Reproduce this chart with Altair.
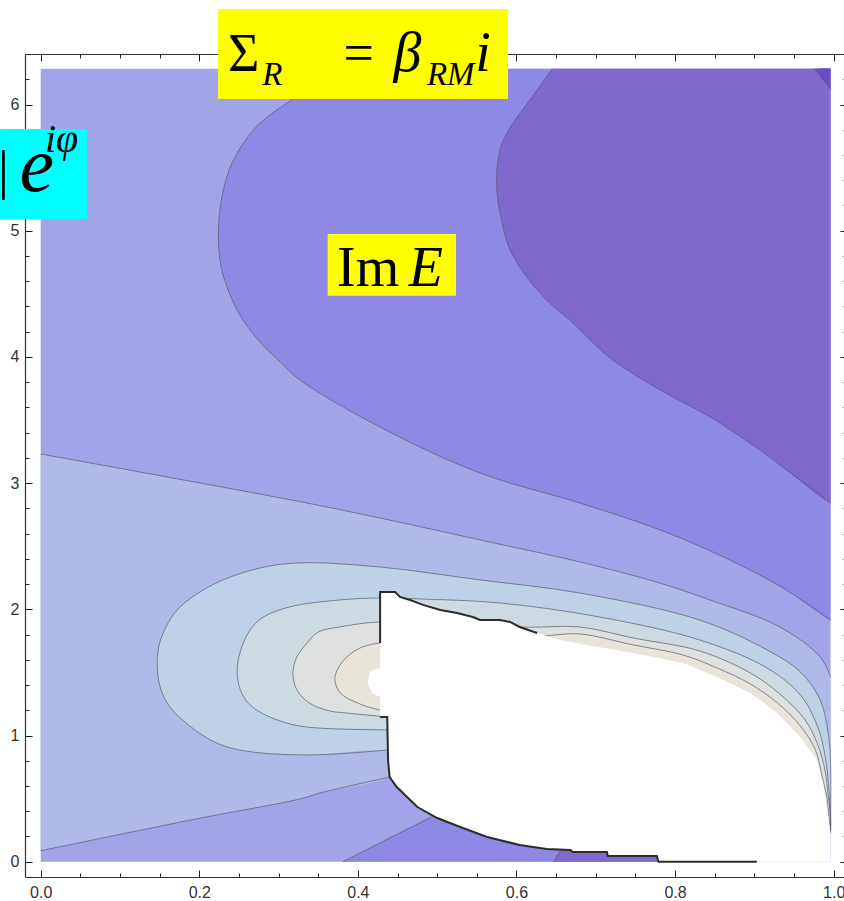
import altair as alt
import pandas as pd

# ---------------- axes ----------------
X_MAJOR = [0.0, 0.2, 0.4, 0.6, 0.8, 1.0]
X_MINOR = [0.05, 0.10, 0.15, 0.25, 0.30, 0.35, 0.45, 0.50, 0.55, 0.65,
           0.70, 0.75, 0.85, 0.90, 0.95]
Y_MAJOR = [0, 1, 2, 3, 4, 5, 6]
Y_MINOR = [0.2, 0.4, 0.6, 0.8, 1.2, 1.4, 1.6, 1.8, 2.2, 2.4, 2.6, 2.8,
           3.2, 3.4, 3.6, 3.8, 4.2, 4.4, 4.6, 4.8, 5.2, 5.4, 5.6, 5.8, 6.2]

PHI_MAX = 6.283185   # 2*pi
X_MAX = 0.996        # last sampled value of |e|

# ---------------- contour curves (x, phi) ----------------
C0 = [(0.976, 6.283), (0.996, 6.123)]
C1 = [(0.645, 6.283), (0.617, 6.036), (0.594, 5.838), (0.579, 5.639),
      (0.575, 5.346), (0.581, 5.085), (0.592, 4.847), (0.613, 4.633),
      (0.638, 4.451), (0.674, 4.253), (0.718, 3.991), (0.781, 3.738),
      (0.844, 3.524), (0.907, 3.262), (0.996, 2.842)]
C2 = [(0.365, 6.283), (0.321, 6.060), (0.274, 5.837), (0.243, 5.560),
      (0.229, 5.283), (0.224, 4.982), (0.227, 4.728), (0.235, 4.554),
      (0.249, 4.356), (0.272, 4.150), (0.302, 3.960), (0.327, 3.817),
      (0.428, 3.444), (0.554, 3.080), (0.680, 2.842), (0.781, 2.629),
      (0.869, 2.391), (0.936, 2.169), (0.996, 1.915)]
C3 = [(0.0, 3.231), (0.327, 2.853), (0.428, 2.723), (0.554, 2.550),
      (0.680, 2.375), (0.777, 2.215), (0.844, 2.074), (0.932, 1.860),
      (0.983, 1.622), (0.996, 1.464)]
C4 = [(0.0, 0.087), (0.201, 0.345), (0.327, 0.497), (0.352, 0.544),
      (0.440, 0.671)]
RING_A = [(0.996, 0.227), (0.996, 0.806), (0.993, 1.020), (0.983, 1.282),
          (0.958, 1.503), (0.916, 1.678), (0.831, 1.915), (0.680, 2.129),
          (0.554, 2.233), (0.428, 2.335), (0.327, 2.368), (0.277, 2.328),
          (0.230, 2.233), (0.195, 2.114), (0.172, 1.995), (0.158, 1.860),
          (0.149, 1.709), (0.147, 1.543), (0.151, 1.376), (0.162, 1.234),
          (0.179, 1.123), (0.214, 0.965), (0.251, 0.885), (0.336, 0.846),
          (0.437, 0.885)]
RING_B = [(0.996, 0.227), (0.994, 0.568), (0.989, 0.846), (0.979, 1.083),
          (0.958, 1.321), (0.916, 1.535), (0.831, 1.757), (0.705, 1.939),
          (0.579, 2.050), (0.478, 2.082), (0.428, 2.090), (0.377, 2.074),
          (0.314, 2.019), (0.279, 1.931), (0.264, 1.836), (0.253, 1.690),
          (0.248, 1.543), (0.250, 1.397), (0.259, 1.278), (0.273, 1.199),
          (0.302, 1.115), (0.336, 1.067), (0.437, 1.044)]
RING_C = [(0.996, 0.227), (0.996, 0.370), (0.993, 0.529), (0.989, 0.727),
          (0.980, 0.925), (0.964, 1.123), (0.932, 1.329), (0.895, 1.495),
          (0.831, 1.670), (0.747, 1.773), (0.680, 1.860), (0.617, 1.858),
          (0.529, 1.876), (0.428, 1.900), (0.377, 1.860), (0.350, 1.820),
          (0.336, 1.733), (0.323, 1.622), (0.318, 1.495), (0.322, 1.376),
          (0.331, 1.297), (0.343, 1.242), (0.365, 1.194), (0.386, 1.178),
          (0.437, 1.147)]
RING_D = [(0.996, 0.227), (0.994, 0.346), (0.992, 0.489), (0.985, 0.687),
          (0.977, 0.885), (0.958, 1.075), (0.929, 1.258), (0.895, 1.408),
          (0.853, 1.535), (0.810, 1.638), (0.747, 1.718), (0.680, 1.804),
          (0.630, 1.788), (0.516, 1.765), (0.428, 1.733), (0.403, 1.694),
          (0.386, 1.622), (0.376, 1.543), (0.371, 1.456), (0.375, 1.361),
          (0.384, 1.305), (0.394, 1.274), (0.409, 1.234), (0.428, 1.202)]
BOT_2 = [(0.381, 0.0), (0.495, 0.362)]
BOT_1 = [(0.646, 0.0), (0.657, 0.101)]

# point inside the undefined (blank) region, used to close the level sets
HOLE = [(0.705, 0.727)]

# undefined region of Im E and its sharp edges
BLANK = [(0.428, 2.137), (0.447, 2.137), (0.453, 2.098), (0.466, 2.074),
         (0.482, 2.035), (0.504, 1.995), (0.525, 1.971), (0.545, 1.939),
         (0.554, 1.915), (0.579, 1.915), (0.592, 1.900), (0.604, 1.860),
         (0.626, 1.812), (0.655, 1.757), (0.689, 1.718), (0.747, 1.654),
         (0.810, 1.575), (0.853, 1.464), (0.895, 1.337), (0.929, 1.178),
         (0.958, 0.988), (0.979, 0.806), (0.987, 0.609), (0.993, 0.370),
         (0.996, 0.227), (0.996, 0.0), (0.779, 0.0), (0.777, 0.045),
         (0.715, 0.045), (0.714, 0.077), (0.671, 0.077), (0.668, 0.093),
         (0.638, 0.101), (0.604, 0.132), (0.563, 0.196), (0.529, 0.275),
         (0.500, 0.346), (0.475, 0.433), (0.449, 0.592), (0.440, 0.671),
         (0.438, 0.806), (0.437, 1.147), (0.428, 1.147), (0.428, 1.305),
         (0.418, 1.337), (0.412, 1.416), (0.415, 1.503), (0.428, 1.535)]
EDGE_TOP = [(0.428, 1.733), (0.428, 2.137), (0.447, 2.137), (0.453, 2.098),
            (0.466, 2.074), (0.482, 2.035), (0.504, 1.995), (0.525, 1.971),
            (0.545, 1.939), (0.554, 1.915), (0.579, 1.915), (0.592, 1.900),
            (0.604, 1.860), (0.626, 1.812)]
EDGE_LOW = [(0.428, 1.147), (0.437, 1.147), (0.438, 0.806), (0.440, 0.671),
            (0.449, 0.592), (0.475, 0.433), (0.500, 0.346), (0.529, 0.275),
            (0.563, 0.196), (0.604, 0.132), (0.638, 0.101), (0.668, 0.093),
            (0.671, 0.077), (0.714, 0.077), (0.715, 0.045), (0.777, 0.045),
            (0.779, 0.0), (0.903, 0.0)]

# contour shading, lowest level first
SHADES = ["#6A4EC1", "#7F69CD", "#8F89E6", "#A3A3E8", "#B0B9E7",
          "#BED1E6", "#CDDAE1", "#DDE0DE", "#E9E4D9"]

# annotation labels
LABEL_TEXT = ["Σ", "R", "=", "β", "RM", "i", "|", "e", "iφ", "Im", "E"]

# ---------------- scales ----------------
xs = alt.Scale(domain=[-0.0198, 1.0130], nice=False, zero=False)
ys = alt.Scale(domain=[-0.1212, 6.4002], nice=False, zero=False)


def pts_df(pts):
    return pd.DataFrame({"x": [p[0] for p in pts],
                         "y": [p[1] for p in pts],
                         "k": list(range(len(pts)))})


def xy(chart):
    return chart.encode(x=alt.X("x:Q", scale=xs, axis=None),
                        y=alt.Y("y:Q", scale=ys, axis=None),
                        order=alt.Order("k:Q"))


def region(pts, color, interp="catmull-rom"):
    return xy(alt.Chart(pts_df(pts)).mark_line(
        fill=color, strokeWidth=0, interpolate=interp))


def path_table(paths):
    rows = []
    for name, pts in paths.items():
        for k, (x, y) in enumerate(pts):
            rows.append({"curve": name, "x": x, "y": y, "k": k})
    return pd.DataFrame(rows)


layers = []

# background level (whole sampled box)
bg = pd.DataFrame({"x0": [0.0], "x1": [X_MAX], "y0": [0.0], "y1": [PHI_MAX]})
layers.append(alt.Chart(bg).mark_rect(color=SHADES[3]).encode(
    x=alt.X("x0:Q", scale=xs, axis=None), x2="x1",
    y=alt.Y("y0:Q", scale=ys, axis=None), y2="y1"))

# upper-right levels
layers.append(region(C2 + [(X_MAX, 1.93), (X_MAX, 6.27), (X_MAX, PHI_MAX), (0.98, PHI_MAX)], SHADES[2]))
layers.append(region(C1 + [(X_MAX, 2.86), (X_MAX, 6.27), (X_MAX, PHI_MAX), (0.98, PHI_MAX)], SHADES[1]))
layers.append(region([C0[0], (X_MAX, PHI_MAX), C0[1]], SHADES[0], "linear"))

# band and rings around the blank region
layers.append(region(C3 + [(X_MAX, 1.45), (X_MAX, 0.24), (X_MAX, 0.227)] + HOLE
                     + [(0.447, 0.727)] + C4[::-1], SHADES[4]))
layers.append(region(RING_A + HOLE, SHADES[5]))
layers.append(region(RING_B + HOLE, SHADES[6]))
layers.append(region(RING_C + HOLE, SHADES[7]))
layers.append(region(RING_D + HOLE, SHADES[8]))

# lower levels near phi = 0
layers.append(region(BOT_2 + [(0.516, 0.489), (0.831, 0.251), (0.903, 0.0)], SHADES[2], "linear"))
layers.append(region(BOT_1 + [(0.705, 0.172), (0.831, 0.093), (0.903, 0.0)], SHADES[1], "linear"))

# contour lines
curves = {"c0": C0, "c1": C1, "c2": C2, "c3": C3, "c4": C4,
          "ra": RING_A, "rb": RING_B, "rc": RING_C, "rd": RING_D,
          "b2": BOT_2, "b1": BOT_1}
layers.append(alt.Chart(path_table(curves)).mark_line(
    stroke="#555566", strokeWidth=1, strokeOpacity=0.65,
    interpolate="catmull-rom").encode(
    x=alt.X("x:Q", scale=xs, axis=None), y=alt.Y("y:Q", scale=ys, axis=None),
    detail="curve:N", order=alt.Order("k:Q")))

# blank region and its boundary
layers.append(region(BLANK, "#FFFFFF", "linear"))
layers.append(alt.Chart(path_table({"top": EDGE_TOP, "low": EDGE_LOW})).mark_line(
    stroke="#2b2b2b", strokeWidth=2, interpolate="linear").encode(
    x=alt.X("x:Q", scale=xs, axis=None), y=alt.Y("y:Q", scale=ys, axis=None),
    detail="curve:N", order=alt.Order("k:Q")))

# annotation boxes
boxes = pd.DataFrame({
    "x0": [0.2236, -0.0513, 0.3619], "x1": [0.5893, 0.0584, 0.5237],
    "y0": [6.044, 5.093, 4.485], "y1": [6.757, 5.806, 4.974],
    "c": ["#FFFF00", "#00FFFF", "#FFFF00"]})
layers.append(alt.Chart(boxes).mark_rect().encode(
    x=alt.X("x0:Q", scale=xs, axis=None), x2="x1",
    y=alt.Y("y0:Q", scale=ys, axis=None), y2="y1",
    color=alt.Color("c:N", scale=None)))

# annotation text: (x, baseline y, font size, style)
label_layout = [
    (0.2362, 6.268, 54, "normal"), (0.2793, 6.155, 33, "italic"),
    (0.3818, 6.268, 54, "normal"), (0.4450, 6.268, 56, "italic"),
    (0.4870, 6.155, 33, "italic"), (0.5480, 6.268, 56, "italic"),
    (-0.0538, 5.338, 54, "normal"), (-0.0267, 5.315, 78, "italic"),
    (0.0054, 5.624, 40, "italic"),
    (0.3737, 4.562, 56, "normal"), (0.4640, 4.562, 56, "italic"),
]
for txt, (lx, ly, size, style) in zip(LABEL_TEXT, label_layout):
    df = pd.DataFrame({"x": [lx], "y": [ly], "t": [txt]})
    layers.append(alt.Chart(df).mark_text(
        font="Liberation Serif", fontSize=size, fontStyle=style,
        align="left", baseline="alphabetic", color="#000000").encode(
        x=alt.X("x:Q", scale=xs, axis=None), y=alt.Y("y:Q", scale=ys, axis=None),
        text="t:N"))

# ---------------- frame and inward ticks ----------------
TICK = "#222222"


def frame_axis(orient):
    return alt.Axis(orient=orient, domain=True, ticks=False, labels=False,
                    grid=False, title="", domainColor="#333333", domainWidth=1.2)


def tick_axis(orient, values, size, offset, fmt=""):
    kw = dict(orient=orient, values=values, tickSize=size, offset=offset,
              domain=False, grid=False, title="", tickColor=TICK, tickWidth=1,
              labels=bool(fmt))
    if fmt:
        kw.update(format=fmt, labelFont="Liberation Sans", labelFontSize=16,
                  labelColor="#333333", labelFlush=False, labelOverlap=False,
                  labelPadding=7 if orient == "bottom" else 6)
    return alt.Axis(**kw)


anchor = pd.DataFrame({"x": [0.0], "y": [0.0]})


def axis_holder(ax_x, ax_y):
    return alt.Chart(anchor).mark_point(opacity=0).encode(
        x=alt.X("x:Q", scale=xs, axis=ax_x), y=alt.Y("y:Q", scale=ys, axis=ax_y))


layers += [
    axis_holder(frame_axis("bottom"), frame_axis("left")),
    axis_holder(tick_axis("bottom", X_MAJOR, 7, -7, ".1f"),
                tick_axis("left", Y_MAJOR, 7, -7, "d")),
    axis_holder(tick_axis("bottom", X_MINOR, 4, -4),
                tick_axis("left", Y_MINOR, 4, -4)),
    axis_holder(frame_axis("top"), tick_axis("right", Y_MAJOR, 7, -4)),
    axis_holder(tick_axis("top", X_MAJOR, 7, -7), tick_axis("right", Y_MINOR, 4, -1)),
    axis_holder(tick_axis("top", X_MINOR, 4, -4), None),
]

chart = alt.layer(*layers).resolve_axis(
    x="independent", y="independent"
).properties(
    width=819, height=823,
    padding={"left": 25, "top": 54, "right": 0, "bottom": 24},
    autosize=alt.AutoSizeParams(type="none"),
).configure_view(strokeWidth=0)

chart.save("out.html", embed_options={"renderer": "svg", "actions": False})
